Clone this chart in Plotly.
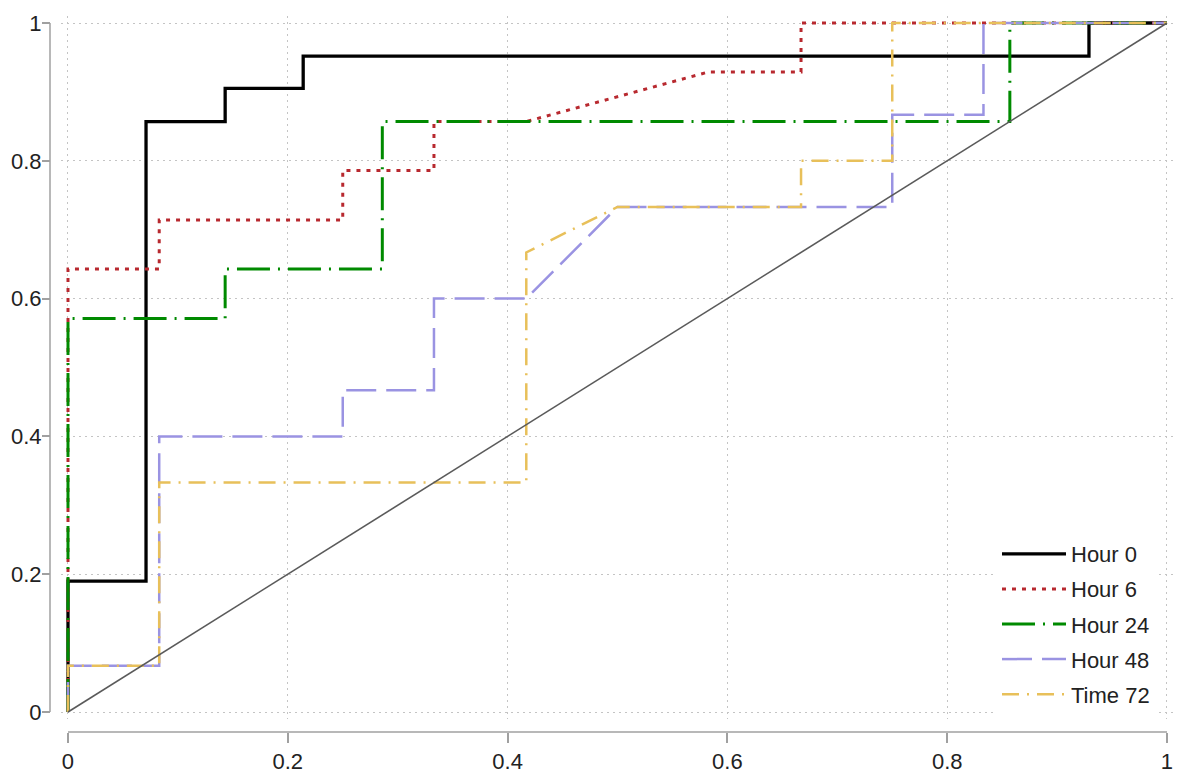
import plotly.graph_objects as go

# ROC curve points (false positive rate, true positive rate)
h0_fpr = [0, 0, 0.071, 0.071, 0.143, 0.143, 0.214, 0.214, 0.929, 0.929, 1]
h0_tpr = [0, 0.190, 0.190, 0.857, 0.857, 0.905, 0.905, 0.952, 0.952, 1, 1]

h6_fpr = [0, 0, 0.083, 0.083, 0.25, 0.25, 0.333, 0.333, 0.417, 0.583, 0.667, 0.667, 1]
h6_tpr = [0, 0.643, 0.643, 0.714, 0.714, 0.786, 0.786, 0.857, 0.857, 0.929, 0.929, 1, 1]

h24_fpr = [0, 0, 0.143, 0.143, 0.286, 0.286, 0.857, 0.857, 1]
h24_tpr = [0, 0.571, 0.571, 0.643, 0.643, 0.857, 0.857, 1, 1]

h48_fpr = [0, 0, 0.083, 0.083, 0.25, 0.25, 0.333, 0.333, 0.417, 0.5, 0.75, 0.75, 0.833, 0.833, 1]
h48_tpr = [0, 0.067, 0.067, 0.4, 0.4, 0.467, 0.467, 0.6, 0.6, 0.733, 0.733, 0.867, 0.867, 1, 1]

t72_fpr = [0, 0, 0.083, 0.083, 0.417, 0.417, 0.5, 0.667, 0.667, 0.75, 0.75, 1]
t72_tpr = [0, 0.067, 0.067, 0.333, 0.333, 0.667, 0.733, 0.733, 0.8, 0.8, 1, 1]

ref_x = [0, 1]
ref_y = [0, 1]

names = ["Hour 0", "Hour 6", "Hour 24", "Hour 48", "Time 72"]
tick_vals = [0, 0.2, 0.4, 0.6, 0.8, 1]
tick_text = ["0", "0.2", "0.4", "0.6", "0.8", "1"]

series = [
    (h0_fpr, h0_tpr, dict(color="#000000", width=3.3, dash="solid")),
    (h6_fpr, h6_tpr, dict(color="#B8292F", width=3, dash="4px,6px")),
    (h24_fpr, h24_tpr, dict(color="#008A00", width=3, dash="33px,8px,2px,8px")),
    (h48_fpr, h48_tpr, dict(color="#9A93E2", width=2.5, dash="30px,10px")),
    (t72_fpr, t72_tpr, dict(color="#E8C05A", width=2.5, dash="17px,8px,2px,8px")),
]

FONT = "Liberation Sans, Arial, sans-serif"
fig = go.Figure()
for i, ((x, y, ln), nm) in enumerate(zip(series, names)):
    fig.add_trace(go.Scatter(x=x, y=y, mode="lines", name=nm, line=ln, legendgroup=f"g{i}"))
fig.add_trace(go.Scatter(x=ref_x, y=ref_y, mode="lines", showlegend=False,
                         line=dict(color="#5a5a5a", width=1.6)))

W, H = 1177, 771
ml, mr, mt, mb = 32, 2, 8, 2
pw = W - ml - mr
ph = H - mt - mb
x0_px, x1_px = 68, 1167
y0_px, y1_px = 712, 23
ux = (x1_px - x0_px)
uy = (y0_px - y1_px)
pad_x = 0.006
pad_y = 0.01
left_px = x0_px - pad_x * ux
bottom_px = y0_px + pad_y * uy
xdom0 = (left_px - ml) / pw
xdom1 = (x1_px + pad_x * ux - ml) / pw
ydom0 = (H - mb - bottom_px) / ph
ydom1 = (H - mb - (y1_px - pad_y * uy)) / ph
yaxis_pos = (50 - ml) / pw
xaxis_pos = (H - mb - 732) / ph

grid = dict(showgrid=True, gridcolor="#c4c4c4", griddash="2px,4px", gridwidth=1)
fig.update_layout(
    width=W, height=H,
    margin=dict(l=ml, r=mr, t=mt, b=mb),
    paper_bgcolor="white", plot_bgcolor="white",
    font=dict(family=FONT, size=22, color="#222222"),
    xaxis=dict(domain=[xdom0, min(xdom1, 1)], range=[-pad_x, 1 + pad_x], anchor="free",
               position=xaxis_pos, automargin=False, ticklabeloverflow="allow",
               tickvals=tick_vals, ticktext=tick_text, ticks="outside", ticklen=10,
               tickcolor="#a0a0a0", tickwidth=1.5, showline=False, zeroline=False, **grid),
    yaxis=dict(domain=[ydom0, min(ydom1, 1)], range=[-pad_y, 1 + pad_y], anchor="free",
               position=yaxis_pos, automargin=False, ticklabeloverflow="allow",
               tickvals=tick_vals, ticktext=tick_text, ticks="outside", ticklen=8,
               ticklabelstandoff=-4,
               tickcolor="#a0a0a0", tickwidth=1.5, showline=False, zeroline=False, **grid),
    legend=dict(x=(1002 - 5 - ml) / pw, y=(H - mb - 715) / ph, xanchor="left", yanchor="bottom",
                bgcolor="white", font=dict(size=22), itemwidth=64,
                traceorder="grouped", tracegroupgap=3.5),
    shapes=[
        dict(type="line", xref="paper", yref="y", x0=yaxis_pos, x1=yaxis_pos, y0=0, y1=1,
             line=dict(color="#a0a0a0", width=1.5)),
        dict(type="line", xref="x", yref="paper", x0=0, x1=1, y0=xaxis_pos, y1=xaxis_pos,
             line=dict(color="#a0a0a0", width=1.5)),
    ],
)
fig.write_html("out.html", config={"displayModeBar": False},
               post_script="document.body.style.margin='0px';document.body.style.overflow='hidden';")
